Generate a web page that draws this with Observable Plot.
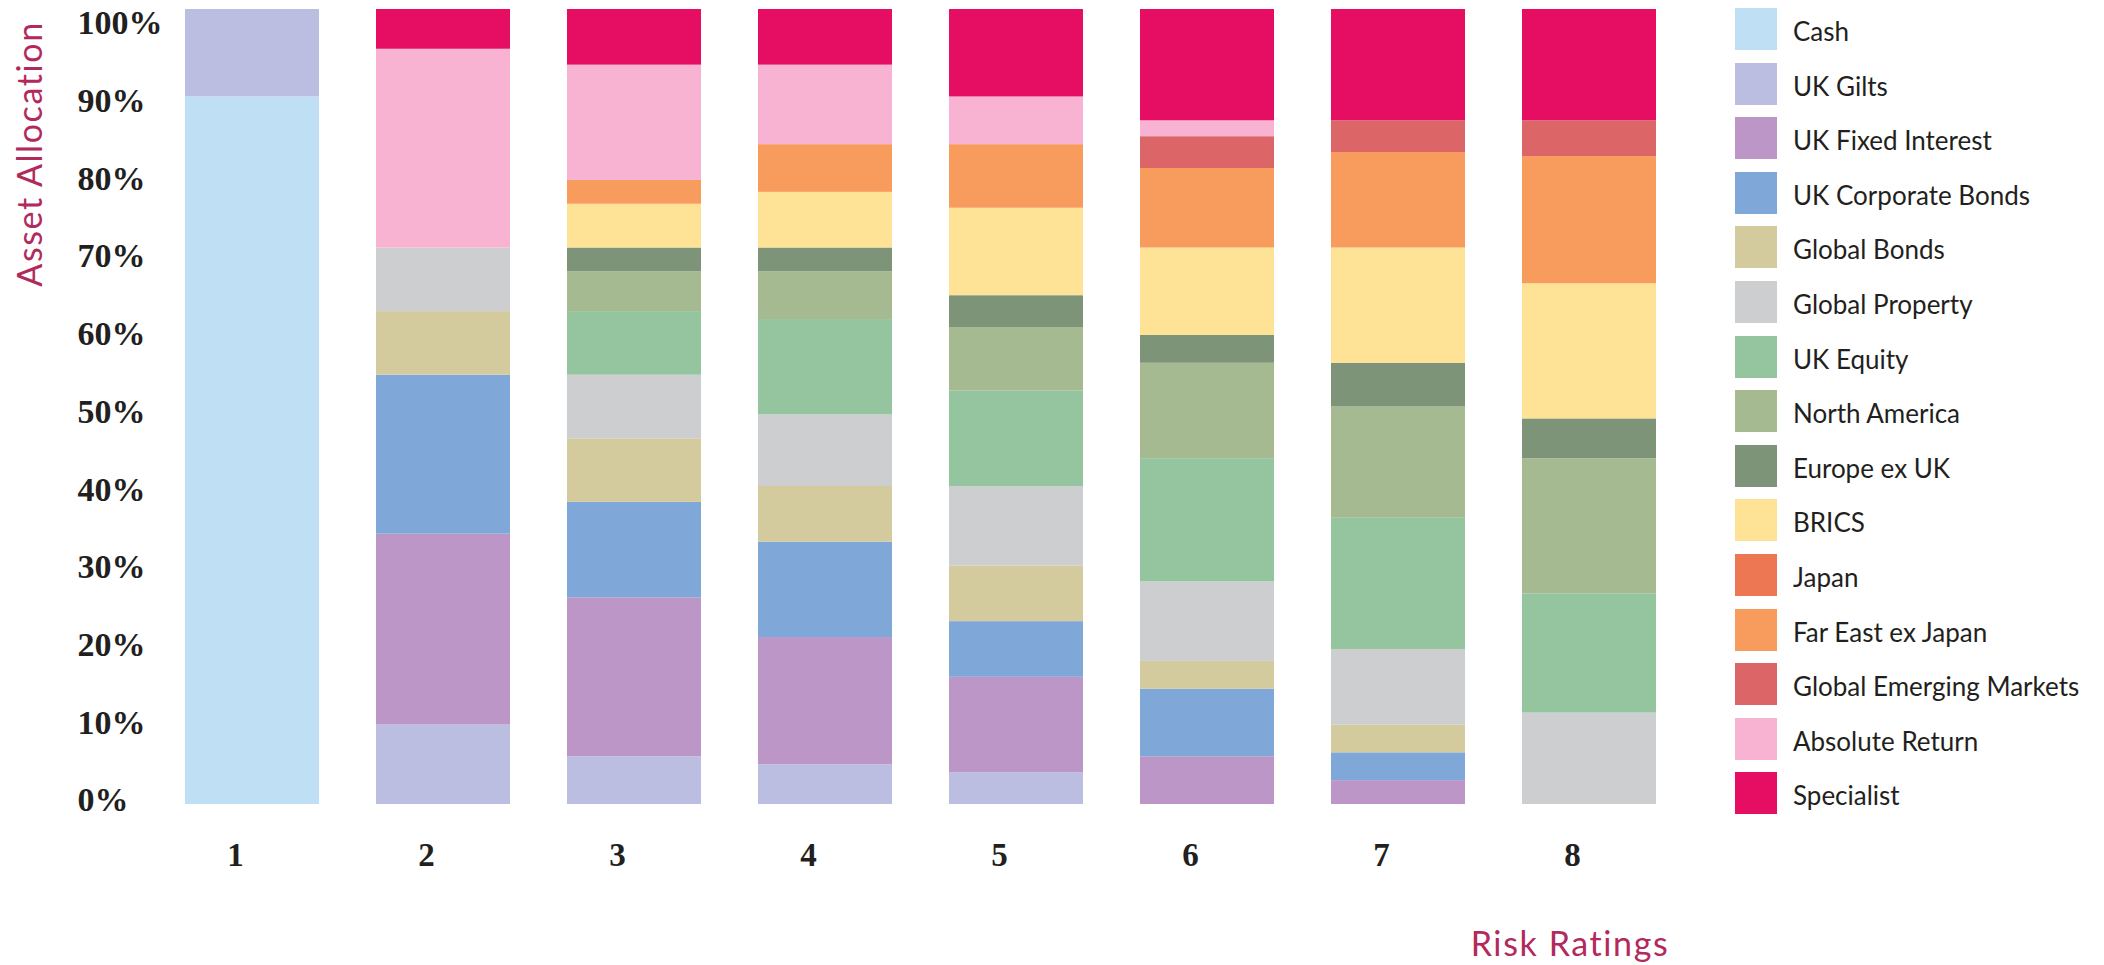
<!DOCTYPE html>
<html>
<head>
<meta charset="utf-8">
<script src="https://cdn.jsdelivr.net/npm/d3@7"></script>
<script src="https://cdn.jsdelivr.net/npm/@observablehq/plot@0.6"></script>
<style>
  html, body { margin: 0; padding: 0; background: #ffffff; }
  #wrap { position: relative; width: 2104px; height: 965px; overflow: hidden; }
  #chart, #yaxis { position: absolute; left: 0; top: 0; }
  .ytitle { position: absolute; left: 28px; top: 154px; transform: translate(-50%, -50%) rotate(-90deg);
    font-family: Lato, "Open Sans", sans-serif; font-size: 34px; letter-spacing: 1.6px; color: #b22a5d; white-space: nowrap; }
  .xtitle { position: absolute; left: 1570px; top: 942px; transform: translate(-50%, -50%);
    font-family: Lato, "Open Sans", sans-serif; font-size: 34px; letter-spacing: 1.6px; color: #b22a5d; white-space: nowrap; }
  #legend { position: absolute; left: 1735px; top: 8px; font-family: Lato, "Open Sans", sans-serif; }
  .item { display: flex; align-items: center; height: 42px; margin-bottom: 12.6px; }
  .sw { width: 42px; height: 42px; flex: none; }
  .lab { margin-left: 16px; font-size: 26px; color: #231f20; white-space: nowrap; position: relative; top: 2px; }
</style>
</head>
<body>
<div id="wrap">
  <div id="chart"></div>
  <div id="yaxis"></div>
  <div class="ytitle">Asset Allocation</div>
  <div class="xtitle">Risk Ratings</div>
  <div id="legend"></div>
</div>
<script>
const ratings = ["1", "2", "3", "4", "5", "6", "7", "8"];
const seriesNames = ["Cash", "UK Gilts", "UK Fixed Interest", "UK Corporate Bonds", "Global Bonds",
  "Global Property", "UK Equity", "North America", "Europe ex UK", "BRICS", "Japan",
  "Far East ex Japan", "Global Emerging Markets", "Absolute Return", "Specialist"];
const seriesColors = ["#bfdff4", "#bbbee0", "#bc96c6", "#7fa8d8", "#d3cb9d",
  "#cdced0", "#95c59f", "#a6ba91", "#7e9479", "#fee295", "#ee7753",
  "#f89c5e", "#dc6567", "#f7b3d1", "#e60e62"];

// values per risk rating 1..8 (percent)
const cash            = [89, 0, 0, 0, 0, 0, 0, 0];
const ukGilts         = [11, 10, 6, 5, 4, 0, 0, 0];
const ukFixedInterest = [0, 24, 20, 16, 12, 6, 3, 0];
const ukCorporate     = [0, 20, 12, 12, 7, 8.5, 3.5, 0];
const globalBonds     = [0, 8, 8, 7, 7, 3.5, 3.5, 0];
const globalProperty  = [0, 8, 8, 9, 10, 10, 9.5, 11.5];
const ukEquity        = [0, 0, 8, 12, 12, 15.5, 16.5, 15];
const northAmerica    = [0, 0, 5, 6, 8, 12, 14, 17];
const europeExUK      = [0, 0, 3, 3, 4, 3.5, 5.5, 5];
const brics           = [0, 0, 5.5, 7, 11, 11, 14.5, 17];
const japan           = [0, 0, 0, 0, 0, 0, 0, 0];
const farEastExJapan  = [0, 0, 3, 6, 8, 10, 12, 16];
const globalEmerging  = [0, 0, 0, 0, 0, 4, 4, 4.5];
const absoluteReturn  = [0, 25, 14.5, 10, 6, 2, 0, 0];
const specialist      = [0, 5, 7, 7, 11, 14, 14, 14];

const yTicks = [0, 10, 20, 30, 40, 50, 60, 70, 80, 90, 100];

const seriesValues = [cash, ukGilts, ukFixedInterest, ukCorporate, globalBonds, globalProperty,
  ukEquity, northAmerica, europeExUK, brics, japan, farEastExJapan, globalEmerging,
  absoluteReturn, specialist];

const data = [];
seriesNames.forEach((name, si) => {
  ratings.forEach((r, ri) => {
    const v = seriesValues[si][ri];
    if (v > 0) data.push({rating: r, series: name, value: v});
  });
});

const tickFont = "'Liberation Serif', 'DejaVu Serif', serif";

// main chart: stacked bars + rating axis
const chart = Plot.plot({
  width: 1700,
  height: 965,
  marginTop: 9,
  marginBottom: 161,
  marginLeft: 156.5,
  marginRight: 15.5,
  style: {background: "transparent", overflow: "visible"},
  x: {domain: ratings, paddingInner: 0.2984, paddingOuter: 0.1492, label: null},
  y: {domain: [0, 100], label: null, axis: null},
  color: {domain: seriesNames, range: seriesColors},
  marks: [
    Plot.barY(data, Plot.stackY({order: null}, {x: "rating", y: "value", fill: "series", z: "series"})),
    Plot.axisX({tickSize: 0, tickPadding: 38, dx: -17, label: null,
      fontSize: 33, fontWeight: "bold", fontFamily: tickFont, fill: "#231f20"})
  ]
});
document.getElementById("chart").appendChild(chart);

// percentage axis (the printed labels sit on a slightly tighter scale than the bars)
const yAxis = Plot.plot({
  width: 160,
  height: 965,
  marginTop: 23,
  marginBottom: 165,
  marginLeft: 157,
  marginRight: 0,
  style: {background: "transparent", overflow: "visible"},
  y: {domain: [0, 100], label: null},
  marks: [
    Plot.axisY({ticks: yTicks, tickSize: 0, tickPadding: 80, textAnchor: "start",
      tickFormat: d => d + "%", label: null,
      fontSize: 34, fontWeight: "bold", fontFamily: tickFont, fill: "#231f20"})
  ]
});
document.getElementById("yaxis").appendChild(yAxis);

const legend = document.getElementById("legend");
seriesNames.forEach((name, i) => {
  const item = document.createElement("div");
  item.className = "item";
  const sw = document.createElement("div");
  sw.className = "sw";
  sw.style.background = seriesColors[i];
  const lab = document.createElement("div");
  lab.className = "lab";
  lab.textContent = name;
  item.appendChild(sw);
  item.appendChild(lab);
  legend.appendChild(item);
});
</script>
</body>
</html>
